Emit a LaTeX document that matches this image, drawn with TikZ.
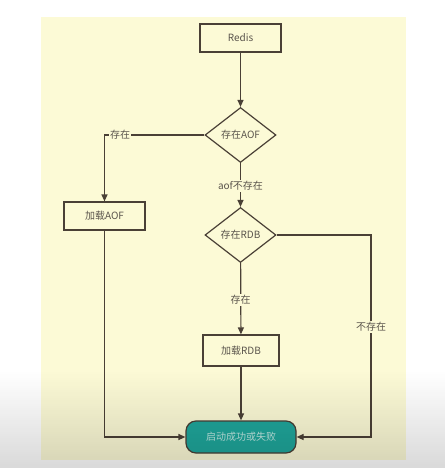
\documentclass[tikz,border=0pt]{standalone}
\usepackage{fontspec}
\setmainfont{Noto Sans CJK SC}
\usetikzlibrary{shapes.geometric,arrows.meta}
\definecolor{bg}{HTML}{FCFAD6}
\definecolor{ln}{HTML}{4A4036}
\definecolor{txt}{HTML}{5A544C}
\definecolor{tealf}{HTML}{1FA69B}
\definecolor{tealtxt}{HTML}{BFE8E2}
\begin{document}
\begin{tikzpicture}[x=1pt,y=-1pt,
  font=\fontsize{10}{12}\selectfont, text=txt,
  box/.style={draw=ln, line width=1.2pt, fill=bg, minimum width=81pt, minimum height=28pt, inner sep=0pt},
  dia/.style={diamond, draw=ln, line width=1.2pt, fill=bg, minimum width=71pt, minimum height=55pt, aspect=1.3, inner sep=0pt},
  term/.style={draw=ln, line width=1.2pt, fill=tealf, rounded corners=10pt, minimum width=110pt, minimum height=32pt, text=tealtxt},
  conn/.style={draw=ln, line width=1.2pt, -{Triangle[length=7pt,width=6pt]}},
  lbl/.style={fill=bg, inner sep=1pt, text=txt}]
\useasboundingbox (0,0) rectangle (445,468);
\fill[white] (0,0) rectangle (445,468);
\fill[bg] (41,17) rectangle (406,460);
\node[box] (redis) at (240.5,38) {Redis};
\node[dia] (d1) at (240.5,135) {存在AOF};
\node[box] (aof) at (104.5,216) {加载AOF};
\node[dia] (d2) at (240.5,235) {存在RDB};
\node[box, minimum width=76pt, minimum height=31pt] (rdb) at (241,350.5) {加载RDB};
\node[term] (end) at (241,437) {启动成功或失败};
\coordinate (c1) at (371,437);
\draw[conn] (redis) -- (d1);
\draw[conn] (d1.west) -| (aof.north);
\node[lbl] (l1) at (120,135) {存在};
\draw[conn] (d1) -- (d2);
\node[lbl] (l2) at (240.5,186) {aof不存在};
\draw[conn] (d2.east) -| (c1) -- (end.east);
\node[lbl] (l3) at (371,327) {不存在};
\draw[conn] (d2) -- (rdb);
\node[lbl] (l4) at (240.5,300) {存在};
\draw[conn] (rdb) -- (end);
\draw[conn] (aof.south) |- (end.west);
\foreach \i in {0,...,49} {
  \fill[black, fill opacity={0.15*\i/49}] (0,{370+2*\i}) rectangle (445,{372.05+2*\i});
}
\end{tikzpicture}
\end{document}
